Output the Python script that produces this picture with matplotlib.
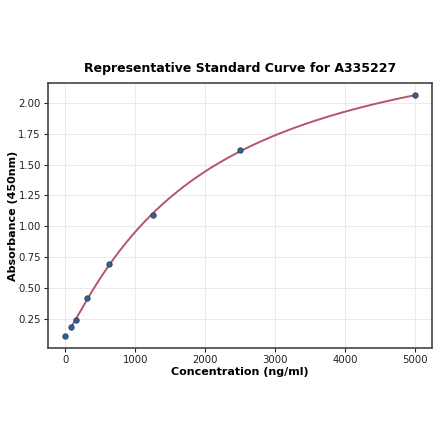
import numpy as np
import matplotlib
matplotlib.use("Agg")
import matplotlib.pyplot as plt

conc = [0, 78.125, 156.25, 312.5, 625, 1250, 2500, 5000]
absorb = [0.112, 0.185, 0.242, 0.42, 0.695, 1.09, 1.62, 2.06]


def fourpl(x, p):
    a, b, c, d = p
    return d + (a - d) / (1 + (x / c) ** b)


# simple Levenberg-Marquardt fit of a 4PL curve (no scipy needed)
def fit4pl(x, y, p):
    p = np.array(p, dtype=float)
    lam = 1e-2
    for _ in range(500):
        r = y - fourpl(x, p)
        J = np.zeros((len(x), 4))
        for i in range(4):
            dp = np.zeros(4)
            dp[i] = 1e-6 * max(abs(p[i]), 1e-3)
            J[:, i] = (fourpl(x, p + dp) - fourpl(x, p)) / dp[i]
        A = J.T @ J
        g = J.T @ r
        step = np.linalg.solve(A + lam * np.diag(np.diag(A)), g)
        pn = p + step
        if np.sum((y - fourpl(x, pn)) ** 2) < np.sum(r ** 2):
            p = pn
            lam *= 0.5
        else:
            lam *= 5
    return p


xs = np.array(conc[1:])
ys = np.array(absorb[1:])
params = fit4pl(xs, ys, [0.1, 1.0, 2000, 3.0])
xfit = np.linspace(conc[1], conc[-1], 400)
yfit = fourpl(xfit, params)

fig, ax = plt.subplots(figsize=(4.4, 4.41), dpi=100)
fig.subplots_adjust(left=0.109, right=0.982, top=0.812, bottom=0.211)
ax.plot(xfit, yfit, color="#b5546a", linewidth=1.4, zorder=2)
ax.scatter(conc, absorb, s=15, color="#2f6196", edgecolor="#2a3f5a",
           linewidth=0.6, zorder=3)
ax.set_xlim(-250, 5240)
ax.set_ylim(0.015, 2.162)
ax.set_xticks([0, 1000, 2000, 3000, 4000, 5000])
ax.set_yticks([0.25, 0.5, 0.75, 1.0, 1.25, 1.5, 1.75, 2.0])
ax.grid(color="#e6e6e6", linewidth=0.6)
ax.set_axisbelow(True)
for s in ax.spines.values():
    s.set_color("#444444")
    s.set_linewidth(1.2)
ax.tick_params(labelsize=7.3, colors="#222222", length=3, pad=2)
ax.set_xlabel("Concentration (ng/ml)", fontsize=8, fontweight="bold")
ax.set_ylabel("Absorbance (450nm)", fontsize=8, fontweight="bold")
ax.xaxis.set_label_coords(0.5, -0.072)
ax.yaxis.set_label_coords(-0.078, 0.5)
ax.set_title("Representative Standard Curve for A335227", fontsize=9,
             fontweight="bold", pad=8)
fig.savefig("out.png")
